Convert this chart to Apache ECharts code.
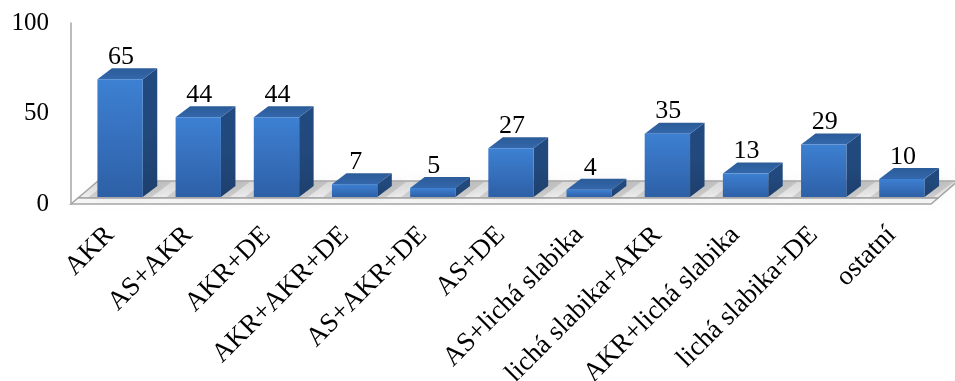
<!DOCTYPE html>
<html>
<head>
<meta charset="utf-8">
<script src="https://cdn.jsdelivr.net/npm/echarts@6/dist/echarts.min.js"></script>
<style>
  html, body { margin: 0; padding: 0; background: #ffffff; }
  #chart { width: 955px; height: 381px; }
</style>
</head>
<body>
<div id="chart"></div>
<script>
// Categories and counts
const categories = [
  'AKR', 'AS+AKR', 'AKR+DE', 'AKR+AKR+DE', 'AS+AKR+DE', 'AS+DE',
  'AS+lichá slabika', 'lichá slabika+AKR', 'AKR+lichá slabika',
  'lichá slabika+DE', 'ostatní'
];
const counts = [65, 44, 44, 7, 5, 27, 4, 35, 13, 29, 10];
const yTicks = [0, 50, 100];

const FONT = '"Liberation Serif", "Times New Roman", serif';

// Oblique projection offsets in pixels
const FRONT_SHIFT = [10, -7];   // bar front face relative to the axis plane
const BAR_DEPTH = [14.5, -11];  // depth of each column
const FLOOR_DEPTH = [27, -23];  // depth of the floor slab
const FLOOR_LIP = 6;            // visible thickness of the floor's front edge
const BAR_RATIO = 0.58;         // column width as a share of the category band

const grad = (stops) => new echarts.graphic.LinearGradient(0, 0, 0, 1,
  stops.map((c, i) => ({ offset: i / (stops.length - 1), color: c })));

const frontFill = grad(['#3d80d2', '#3670bd', '#2d60a6']);
const sideFill = grad(['#214a80', '#22497c', '#1d3f6d']);
const topFill = new echarts.graphic.LinearGradient(0, 1, 0, 0, [
  { offset: 0, color: '#3468ac' }, { offset: 1, color: '#2b5b98' }
]);

function renderFloor(params, api) {
  const cs = params.coordSys;
  const yf = api.coord([0, 0])[1];
  const xl = cs.x, xr = cs.x + cs.width;
  const [fx, fy] = FLOOR_DEPTH;
  const lipDx = FLOOR_LIP * fx / -fy;
  const yl = yf - FLOOR_LIP;
  return {
    type: 'group',
    children: [
      {
        type: 'polygon',
        shape: { points: [[xl + lipDx, yl], [xr + lipDx, yl], [xr + fx, yf + fy], [xl + fx, yf + fy]] },
        style: {
          fill: new echarts.graphic.LinearGradient(0, 0, 0, 1, [
            { offset: 0, color: '#dadada' }, { offset: 1, color: '#f2f2f2' }
          ]),
          stroke: '#a6a6a6', lineWidth: 1.5
        }
      },
      {
        type: 'polygon',
        shape: { points: [[xl, yf], [xr, yf], [xr + lipDx, yl], [xl + lipDx, yl]] },
        style: { fill: '#f7f7f7', stroke: '#a6a6a6', lineWidth: 1.5 }
      }
    ]
  };
}

function renderBar(params, api) {
  const i = api.value(0);
  const v = api.value(1);
  const base = api.coord([i, 0]);
  const top = api.coord([i, v]);
  const w = api.size([1, 0])[0] * BAR_RATIO;
  const x0 = base[0] - w / 2 + FRONT_SHIFT[0];
  const x1 = x0 + w;
  const yb = base[1] + FRONT_SHIFT[1];
  const yt = top[1] + FRONT_SHIFT[1];
  const [dx, dy] = BAR_DEPTH;
  const [fx, fy] = FLOOR_DEPTH;
  const floorBackY = base[1] + fy + 1;
  // soft shadow cast on the floor around the column footprint
  const sh = 9;
  return {
    type: 'group',
    children: [
      {
        type: 'polygon',
        shape: {
          points: [
            [x0 - sh, yb], [x1 + sh, yb],
            [x1 + sh + (floorBackY - yb) * dx / dy, floorBackY],
            [x0 - sh + (floorBackY - yb) * dx / dy, floorBackY]
          ]
        },
        style: { fill: 'rgba(110,110,110,0.22)', shadowBlur: 12, shadowColor: 'rgba(0,0,0,0.3)' }
      },
      {
        type: 'polygon',
        shape: { points: [[x1, yt], [x1 + dx, yt + dy], [x1 + dx, yb + dy], [x1, yb]] },
        style: { fill: sideFill }
      },
      {
        type: 'polygon',
        shape: { points: [[x0, yt], [x0 + dx, yt + dy], [x1 + dx, yt + dy], [x1, yt]] },
        style: { fill: topFill }
      },
      {
        type: 'rect',
        shape: { x: x0, y: yt, width: w, height: yb - yt },
        style: { fill: frontFill }
      },
      {
        type: 'text',
        x: (x0 + x1) / 2 + 1,
        y: yt + dy + 2,
        style: {
          text: String(v),
          fontFamily: FONT, fontSize: 26,
          align: 'center', verticalAlign: 'bottom',
          fill: '#000000'
        }
      }
    ]
  };
}

const chart = echarts.init(document.getElementById('chart'), null, { renderer: 'canvas' });
chart.setOption({
  animation: false,
  backgroundColor: '#ffffff',
  grid: {
    left: 71, right: 24, top: 23, bottom: 177,
    containLabel: false, outerBoundsMode: 'none'
  },
  xAxis: {
    type: 'category',
    data: categories,
    axisLine: { show: false },
    axisTick: { show: false },
    axisLabel: {
      interval: 0, rotate: 45, margin: 27,
      fontFamily: FONT, fontSize: 27, color: '#000000'
    }
  },
  yAxis: {
    type: 'value',
    min: yTicks[0], max: yTicks[yTicks.length - 1], interval: yTicks[1] - yTicks[0],
    axisLine: { show: true, lineStyle: { color: '#a6a6a6', width: 1.5 } },
    axisTick: { show: false },
    splitLine: { show: false },
    axisLabel: {
      margin: 22, fontFamily: FONT, fontSize: 25, color: '#000000',
      padding: [5, 0, 0, 0]
    }
  },
  series: [
    {
      type: 'custom',
      renderItem: renderFloor,
      data: [[0]],
      silent: true,
      z: 1
    },
    {
      type: 'custom',
      renderItem: renderBar,
      data: counts.map((v, i) => [i, v]),
      z: 2
    }
  ]
});
</script>
</body>
</html>
